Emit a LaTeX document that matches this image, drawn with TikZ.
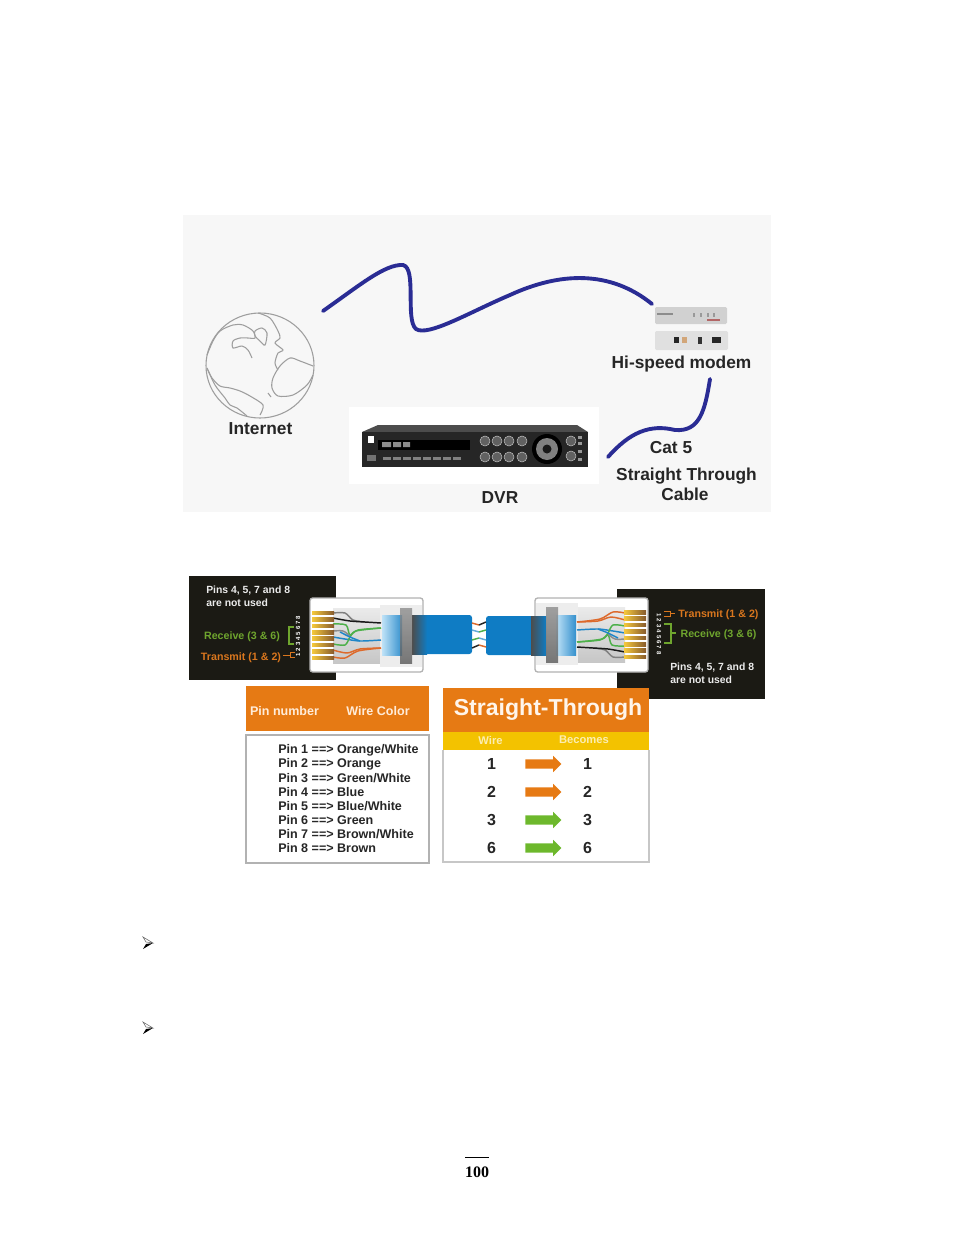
\documentclass[tikz,border=0pt]{standalone}
\usepackage{fontspec}
\setmainfont{Liberation Sans}
\newfontfamily\pagefont{Liberation Serif}
\usetikzlibrary{shapes.arrows, positioning, calc}
\definecolor{panelgray}{HTML}{F7F7F7}
\definecolor{cablenavy}{HTML}{2A2C94}
\definecolor{labelink}{HTML}{262626}
\definecolor{barorange}{HTML}{E67A14}
\definecolor{baryellow}{HTML}{F3C200}
\definecolor{arrowgreen}{HTML}{6DB82C}
\definecolor{panelblack}{HTML}{1B1A14}
\definecolor{pinorange}{HTML}{D9761E}
\definecolor{pingreen}{HTML}{6FA52E}
\definecolor{jacketblue}{HTML}{0F7CC4}
\definecolor{bootlight}{HTML}{BFE2F7}
\definecolor{wiregreen}{HTML}{4DB04A}
\definecolor{wireblue}{HTML}{1F86C8}
\definecolor{wireorange}{HTML}{DD6A2C}
\definecolor{contactgold}{HTML}{F5C93C}
\newcommand{\fsz}[1]{\fontsize{#1}{#1}\selectfont}
\tikzset{
  netlabel/.style={text=labelink, font=\fsz{13}\bfseries},
  cable/.style={draw=cablenavy, line width=2.9pt, line cap=round},
  land/.style={draw=black!38, line width=0.8pt},
  panel/.style={fill=panelblack, draw=none},
  whitetext/.style={text=white!92!black, font=\fsz{7.8}\bfseries, align=left},
  pinlabel/.style={font=\fsz{8}\bfseries},
  pinline/.style={font=\fsz{9.4}\bfseries, text=black!85, anchor=west},
  wirenum/.style={font=\fsz{12}\bfseries, text=black!85},
  bararrow/.style={single arrow, minimum height=27pt, text height=6.6pt, text depth=0pt, text width=0pt, single arrow head extend=2.6pt, inner sep=0pt},
  wire/.style={line width=1.1pt},
  knob/.style={circle, fill=black!62, draw=black!25, line width=0.4pt, minimum size=7.5pt, inner sep=0pt},
}
% one RJ45 plug with its jacket, drawn at the left side position
\newcommand{\rjplug}{
  \fill[white, draw=black!30, line width=1pt, rounded corners=2pt] (310,598) rectangle (423,672);
  \shade[top color=black!8, bottom color=black!22] (333,608) rectangle (381,663);
  \fill[black!7] (380,605) rectangle (422,667);
  % wires
  \draw[wire, black!50] plot[smooth] coordinates {(333,613) (345,613) (353,620) (365,622)};
  \draw[wire, black!90] plot[smooth] coordinates {(333,618) (350,621) (365,622) (381,623)};
  \draw[wire, wiregreen] plot[smooth] coordinates {(333,624) (346,625) (350,635) (358,630) (381,628)};
  \draw[wire, black!45] plot[smooth] coordinates {(333,631) (343,631) (350,636)};
  \draw[wire, wireblue] plot[smooth] coordinates {(333,637) (345,639) (360,641) (381,640)};
  \draw[wire, wiregreen] plot[smooth] coordinates {(333,644) (345,645) (350,637) (356,631) (381,628)};
  \draw[wire, wireblue] plot[smooth] coordinates {(340,632) (350,637) (360,641)};
  \draw[wire, wireorange] plot[smooth] coordinates {(333,650) (347,653) (360,649) (381,648)};
  \draw[wire, wireorange] plot[smooth] coordinates {(333,657) (345,658) (358,651) (381,648)};
  % contacts
  \foreach \pinrow in {0,...,7}
    \shade[left color=contactgold, middle color=contactgold!80!brown, right color=brown!70!black] (312,{613+6.4*\pinrow-1.8}) rectangle (334,{613+6.4*\pinrow+1.8});
  % jacket
  \fill[jacketblue, rounded corners=2pt] (418,615) rectangle (472,654);
  \shade[left color=black!70, right color=jacketblue] (412,615) rectangle (427,654);
  % boot
  \shade[left color=bootlight, right color=jacketblue!85] (382,615) rectangle (402,655);
  \shade[top color=black!45, bottom color=black!65, opacity=.8] (400,608) rectangle (412,663);
  % wire ends
  \draw[wire, wireorange] (472,623) -- (479,625);
  \draw[wire, wireblue!70] (472,630) -- (479,632);
  \draw[wire, wiregreen] (472,640) -- (479,638);
  \draw[wire, black!85] (472,648) -- (479,645);
}
\begin{document}
\begin{tikzpicture}[x=0.75pt, y=-0.75pt]
\useasboundingbox (0,0) rectangle (954,1235);
% Network panel
\fill[panelgray] (183,215) rectangle (771,512);
\fill[white] (349,407) rectangle (599,484);
% Globe
\draw[land] (260,365.5) ellipse (54 and 52.5);
\draw[land] plot[smooth] coordinates {(207,355) (213,341) (220,331) (233,325) (243,325) (253,331) (255,338) (248,338) (240,338) (233,341) (233,348) (242,346) (248,350) (252,358)};
\draw[land] plot[smooth] coordinates {(207,368) (212,378) (220,386) (230,388) (240,391) (250,396) (263,405) (260,415)};
\draw[land] plot[smooth] coordinates {(207,368) (215,385) (225,398) (230,405) (237,408) (247,416)};
\draw[land] plot[smooth cycle] coordinates {(255,331) (262,328) (267,333) (265,345) (260,341) (255,336)};
\draw[land] plot[smooth] coordinates {(258,313) (270,318) (278,331) (280,338) (275,343) (283,350) (278,353) (275,363) (278,370)};
\draw[land] plot[smooth] coordinates {(313,366) (300,361) (290,358) (280,366) (273,378) (272,388) (278,396) (293,395) (307,385) (313,375)};
\draw[land] (268,393) -- (271,397);
% DVR
\fill[black!70] (378,425) -- (577,425) -- (588,432) -- (362,432) -- cycle;
\fill[black!85] (362,432) rectangle (588,467);
\fill[black] (378,440) rectangle (470,450);
\fill[black!45] (382,442) rectangle (391,447) (393,442) rectangle (401,447) (403,442) rectangle (410,447);
\fill[white] (368,436) rectangle (374,443);
\fill[black!55] (367,455) rectangle (376,461);
\foreach \slotx in {0,...,7}
  \fill[black!50] ({383+\slotx*10},457) rectangle ++(8,3);
\foreach \knobx in {485,497,509,522}{
  \node[knob] (knobup\knobx) at (\knobx,441) {};
  \node[knob] (knobdn\knobx) at (\knobx,457) {};
}
\fill[black] (547,449) circle (15);
\fill[black!50] (547,449) circle (11);
\fill[black!90] (547,449) circle (4.5);
\foreach \knoby in {441,456}
  \node[knob] (sideknob\knoby) at (571,\knoby) {};
\foreach \sidey in {436,442,450,458}
  \fill[black!40] (578,\sidey) rectangle ++(4,3);
% Modem
\fill[black!18, rounded corners=1pt] (655,307) rectangle (727,324);
\fill[black!12, rounded corners=1pt] (655,331) rectangle (728,350);
\fill[black!85] (674,337) rectangle (679,343);
\fill[brown!70] (682,337) rectangle (687,343);
\fill[black!80] (698,337) rectangle (702,344);
\fill[black!85] (712,337) rectangle (721,343);
\fill[black!45] (657,313) rectangle (673,315);
\fill[red!50!black!60] (707,319) rectangle (720,321);
\foreach \ledx in {693,700,707,713}
  \fill[black!40] (\ledx,313) rectangle ++(2,4);
% Network labels
\node[netlabel] (internet) at (260.5,428.5) {Internet};
\node[netlabel] (modem) at (681.5,364) {Hi-speed modem};
\node[netlabel] (dvr) at (500,497.5) {DVR};
\node[netlabel] (catfive) at (671,447.5) {Cat 5};
\node[netlabel] (straight) at (686.5,476) {Straight Through};
\node[netlabel] (cablelbl) at (685,494.5) {Cable};
% Cables
\coordinate (webend) at (323,311);
\coordinate (modemtop) at (652,304);
\coordinate (modemend) at (710,379);
\coordinate (dvrend) at (608,457);
\draw[cable] (webend) .. controls (360,285) and (385,264) .. (403,265)
  .. controls (417,268) and (405,320) .. (416,329)
  .. controls (428,337) and (470,312) .. (510,295)
  .. controls (560,272) and (610,270) .. (modemtop);
\draw[cable] (modemend) .. controls (705,410) and (700,432) .. (675,430)
  .. controls (650,424) and (630,432) .. (dvrend);
% Cable panels
\fill[panel] (189,576) rectangle (336,680);
\fill[panel] (617,589) rectangle (765,699);
\node[whitetext, anchor=north west, inner sep=0pt] (unusedl) at (206,586) {Pins 4, 5, 7 and 8\\[1.5pt]are not used};
\node[whitetext, anchor=north west, inner sep=0pt] (unusedr) at (670,663) {Pins 4, 5, 7 and 8\\[1.5pt]are not used};
\node[pinlabel, text=pingreen] (recvl) at (242,637) {Receive (3 \& 6)};
\node[pinlabel, text=pinorange] (sendl) at (241,658) {Transmit (1 \& 2)};
\node[pinlabel, text=pinorange] (sendr) at (718.5,614.5) {Transmit (1 \& 2)};
\node[pinlabel, text=pingreen] (recvr) at (718.5,634.5) {Receive (3 \& 6)};
\node[font=\fsz{4.5}\bfseries, text=white, rotate=90] (numsl) at (298,636) {1\,\,2\,\,3\,\,4\,\,5\,\,6\,\,7\,\,8};
\node[font=\fsz{4.5}\bfseries, text=white, rotate=-90] (numsr) at (659,634) {1\,\,2\,\,3\,\,4\,\,5\,\,6\,\,7\,\,8};
\draw[pingreen, line width=0.8pt] (294,627) -- (289,627) -- (289,644) -- (294,644);
\draw[pinorange, line width=0.6pt] (283,655) -- (290,655) (290,652) -- (295,652) (290,652) -- (290,657) -- (295,657);
\draw[pingreen, line width=0.8pt] (664,624) -- (671,624) -- (671,643) -- (664,643) (671,633) -- (676,633);
\draw[pinorange, line width=0.6pt] (664,611) -- (670,611) -- (670,616) -- (664,616) (670,613) -- (675,613);
% Plugs and cable ends
\rjplug
\begin{scope}[shift={(958,1270)}, xscale=-1, yscale=-1]
\rjplug
\end{scope}
% Pin table
\fill[barorange] (246,686) rectangle (429,731);
\node[font=\fsz{9.4}\bfseries, text=white!85!orange] (pinhead) at (284.5,711) {Pin number};
\node[font=\fsz{9.4}\bfseries, text=white!85!orange] (wirehead) at (378,711) {Wire Color};
\draw[black!30, fill=white, line width=1pt] (246,735) rectangle (429,863);
\foreach \pinno/\pinwire [count=\pinrow from 0] in {1/Orange\slash White, 2/Orange, 3/Green\slash White, 4/Blue, 5/Blue\slash White, 6/Green, 7/Brown\slash White, 8/Brown}
  \node[pinline, inner sep=0pt] (pinrow\pinno) at (278,{750.5+14*\pinrow}) {Pin \pinno{} ==> \pinwire};
% Straight-through table
\fill[barorange] (443,688) rectangle (649,732);
\fill[baryellow] (443,732) rectangle (649,750);
\draw[black!22, line width=0.8pt] (443,750) -- (443,862) -- (649,862) -- (649,750);
\node[font=\fsz{17.3}\bfseries, text=white!92!orange] (title) at (548,710) {Straight-Through};
\node[font=\fsz{8.4}\bfseries, text=white!70!baryellow] (wirecol) at (490.5,740) {Wire};
\node[font=\fsz{8.4}\bfseries, text=white!70!baryellow] (becomes) at (584,740) {Becomes};
\foreach \wireno/\wirecolr [count=\wirerow from 0] in {1/barorange, 2/barorange, 3/arrowgreen, 6/arrowgreen}{
  \node[wirenum] (from\wirerow) at (491.5,{763.5+28*\wirerow}) {\wireno};
  \node[wirenum] (to\wirerow) at (587.5,{763.5+28*\wirerow}) {\wireno};
  \node[bararrow, fill=\wirecolr] (arrow\wirerow) at (541,{764+28*\wirerow}) {};
}
% Bullets
\foreach \bullety in {943,1028}{
  \fill[black] (143,949) ++(0,{\bullety-943}) -- ++(10,-6) -- ++(-7,1) -- cycle;
  \draw[black!60, line width=0.4pt] (143,937) ++(0,{\bullety-943}) -- ++(10,6) -- ++(-7,-1) -- cycle;
}
% Page number
\coordinate (ruleleft) at (465,1157);
\coordinate (ruleright) at (489,1157);
\draw[black, line width=0.75pt] (ruleleft) -- (ruleright);
\node[font=\pagefont\fsz{12}\bfseries, text=black] (pageno) at (477,1172) {100};
\end{tikzpicture}
\end{document}
